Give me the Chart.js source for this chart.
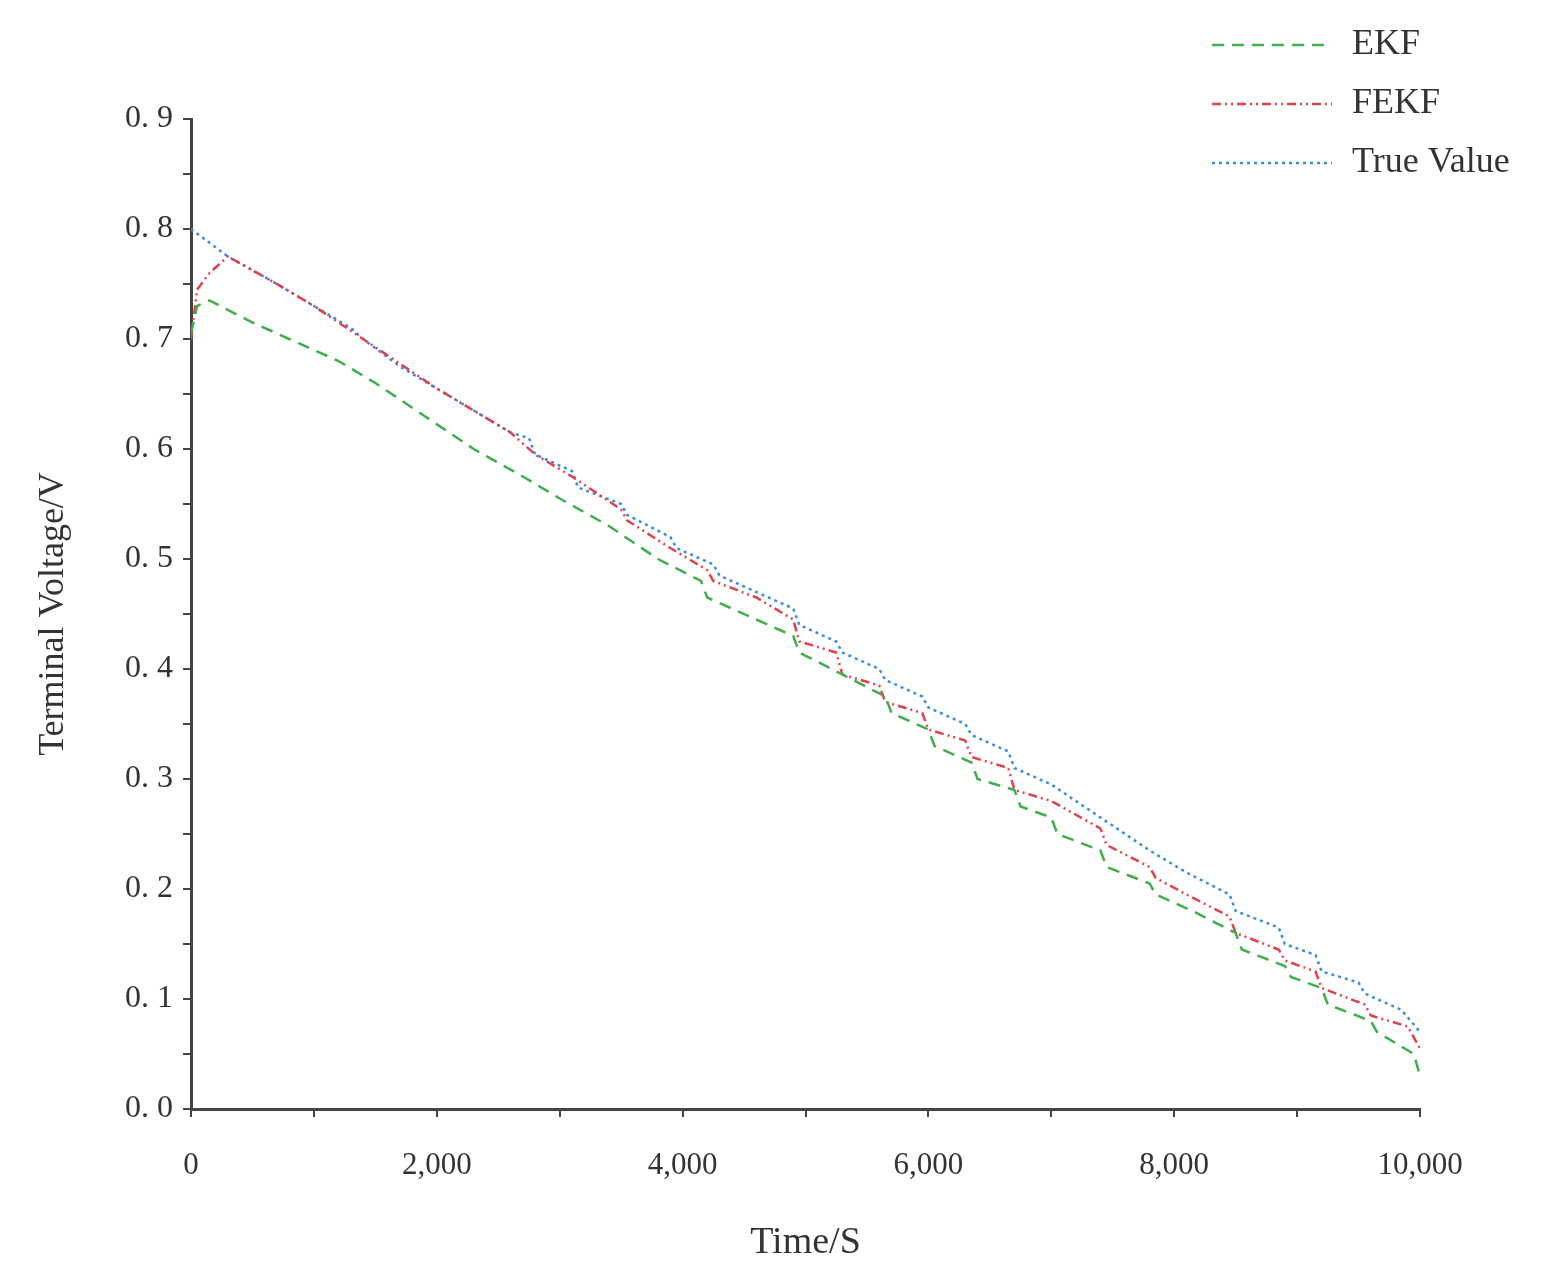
<!DOCTYPE html>
<html>
<head>
<meta charset="utf-8">
<script src="https://cdn.jsdelivr.net/npm/chart.js@4"></script>
<style>
  body { margin: 0; background: #fff; }
  #wrap { width: 1564px; height: 1270px; }
</style>
</head>
<body>
<div id="wrap"><canvas id="chart" width="1564" height="1270"></canvas></div>
<script>
// Series (time in s, voltage in V)
const trueTime = [0, 300, 700, 1000, 1300, 1400, 1700, 2000, 2300, 2600, 2750, 2800, 3100, 3150, 3500, 3550, 3900, 3950, 4250, 4300, 4600, 4900, 4950, 5250, 5300, 5600, 5650, 5950, 6000, 6300, 6350, 6650, 6700, 7000, 7400, 7800, 8100, 8450, 8500, 8850, 8900, 9150, 9200, 9500, 9550, 9850, 10000];
const trueVolt = [0.80, 0.775, 0.75, 0.73, 0.71, 0.70, 0.675, 0.655, 0.635, 0.615, 0.61, 0.595, 0.58, 0.565, 0.55, 0.54, 0.52, 0.51, 0.495, 0.485, 0.47, 0.455, 0.44, 0.425, 0.415, 0.40, 0.39, 0.375, 0.365, 0.35, 0.34, 0.325, 0.31, 0.295, 0.265, 0.235, 0.215, 0.195, 0.18, 0.165, 0.15, 0.14, 0.125, 0.115, 0.105, 0.09, 0.07];
const fekfTime = [0, 50, 150, 300, 700, 1000, 1400, 2000, 2600, 2800, 3100, 3500, 3550, 3900, 4200, 4250, 4600, 4900, 4950, 5250, 5300, 5600, 5650, 5950, 6000, 6300, 6350, 6650, 6700, 7000, 7400, 7450, 7800, 7850, 8100, 8450, 8500, 8850, 8900, 9150, 9200, 9550, 9600, 9900, 10000];
const fekfVolt = [0.70, 0.745, 0.76, 0.775, 0.75, 0.73, 0.70, 0.655, 0.615, 0.595, 0.575, 0.545, 0.535, 0.51, 0.49, 0.48, 0.465, 0.445, 0.425, 0.415, 0.395, 0.385, 0.37, 0.36, 0.345, 0.335, 0.32, 0.31, 0.29, 0.28, 0.255, 0.24, 0.22, 0.21, 0.195, 0.175, 0.16, 0.145, 0.135, 0.125, 0.11, 0.095, 0.085, 0.075, 0.055];
const ekfTime = [0, 50, 150, 500, 800, 1200, 1500, 1900, 2300, 2700, 3000, 3400, 3800, 4150, 4200, 4600, 4900, 4950, 5300, 5650, 5700, 6000, 6050, 6350, 6400, 6700, 6750, 7000, 7050, 7400, 7450, 7800, 7850, 8150, 8500, 8550, 8900, 8950, 9200, 9250, 9600, 9650, 9950, 10000];
const ekfVolt = [0.705, 0.73, 0.735, 0.715, 0.70, 0.68, 0.66, 0.63, 0.60, 0.575, 0.555, 0.53, 0.50, 0.48, 0.465, 0.445, 0.43, 0.415, 0.395, 0.375, 0.36, 0.345, 0.33, 0.315, 0.30, 0.29, 0.275, 0.265, 0.25, 0.235, 0.22, 0.205, 0.195, 0.18, 0.16, 0.145, 0.13, 0.12, 0.11, 0.095, 0.08, 0.07, 0.05, 0.03];
const seriesNames = ['EKF', 'FEKF', 'True Value'];
const yTicks = [0, 0.1, 0.2, 0.3, 0.4, 0.5, 0.6, 0.7, 0.8, 0.9];
const xTicks = [0, 2000, 4000, 6000, 8000, 10000];

const pts = (xs, ys) => xs.map((x, i) => ({ x: x, y: ys[i] }));
const serif = 'Liberation Serif';

// legend in the top right corner, drawn by hand
const legendPlugin = {
    id: 'cornerLegend',
    afterDraw(chart) {
        const ctx = chart.ctx;
        chart.data.datasets.forEach((ds, i) => {
            const y = 45 + i * 59;
            ctx.save();
            ctx.strokeStyle = ds.borderColor;
            ctx.lineWidth = 2.5;
            ctx.setLineDash(ds.borderDash);
            ctx.beginPath();
            ctx.moveTo(1212, y);
            ctx.lineTo(1332, y);
            ctx.stroke();
            ctx.setLineDash([]);
            ctx.fillStyle = '#333';
            ctx.font = '36px "' + serif + '"';
            ctx.textBaseline = 'middle';
            ctx.fillText(ds.label, 1352, y);
            ctx.restore();
        });
    }
};

new Chart(document.getElementById('chart'), {
    type: 'line',
    data: {
        datasets: [
            { label: seriesNames[0], data: pts(ekfTime, ekfVolt), borderColor: '#3fae4c', borderDash: [12, 8] },
            { label: seriesNames[1], data: pts(fekfTime, fekfVolt), borderColor: '#e0424c', borderDash: [9, 4, 2, 4, 2, 4] },
            { label: seriesNames[2], data: pts(trueTime, trueVolt), borderColor: '#3a8ee0', borderDash: [3, 4] }
        ].map(d => Object.assign(d, { borderWidth: 2.5, pointRadius: 0, tension: 0, fill: false }))
    },
    options: {
        responsive: false,
        animation: false,
        layout: { padding: { left: 28, right: 144, top: 119, bottom: 0 } },
        plugins: { legend: { display: false }, tooltip: { enabled: false } },
        scales: {
            x: {
                type: 'linear', min: 0, max: 10000,
                afterFit: s => { s.height = 161; },
                border: { color: '#444', width: 3 },
                grid: { drawOnChartArea: false, color: '#444', tickLength: 8, lineWidth: 2 },
                ticks: {
                    stepSize: 1000, autoSkip: false, maxRotation: 0, color: '#333', padding: 30,
                    font: { family: serif, size: 31 },
                    callback: v => xTicks.includes(v) ? v.toLocaleString('en-US') : ''
                },
                title: { display: true, text: 'Time/S', color: '#333', font: { family: serif, size: 38 }, padding: { top: 0 } }
            },
            y: {
                min: 0, max: 0.9,
                afterFit: s => { s.width = 163; },
                border: { color: '#444', width: 3 },
                grid: { drawOnChartArea: false, color: '#444', tickLength: 8, lineWidth: 2 },
                ticks: {
                    stepSize: 0.05, autoSkip: false, color: '#333', padding: 10,
                    font: { family: serif, size: 32 },
                    callback: v => {
                        const r = Math.round(v * 100) / 100;
                        return yTicks.some(t => Math.abs(t - r) < 1e-6) ? r.toFixed(1).replace('.', '. ') : '';
                    }
                },
                title: { display: true, text: 'Terminal Voltage/V', color: '#333', font: { family: serif, size: 36 }, padding: { bottom: 6 } }
            }
        }
    },
    plugins: [legendPlugin]
});
</script>
</body>
</html>
